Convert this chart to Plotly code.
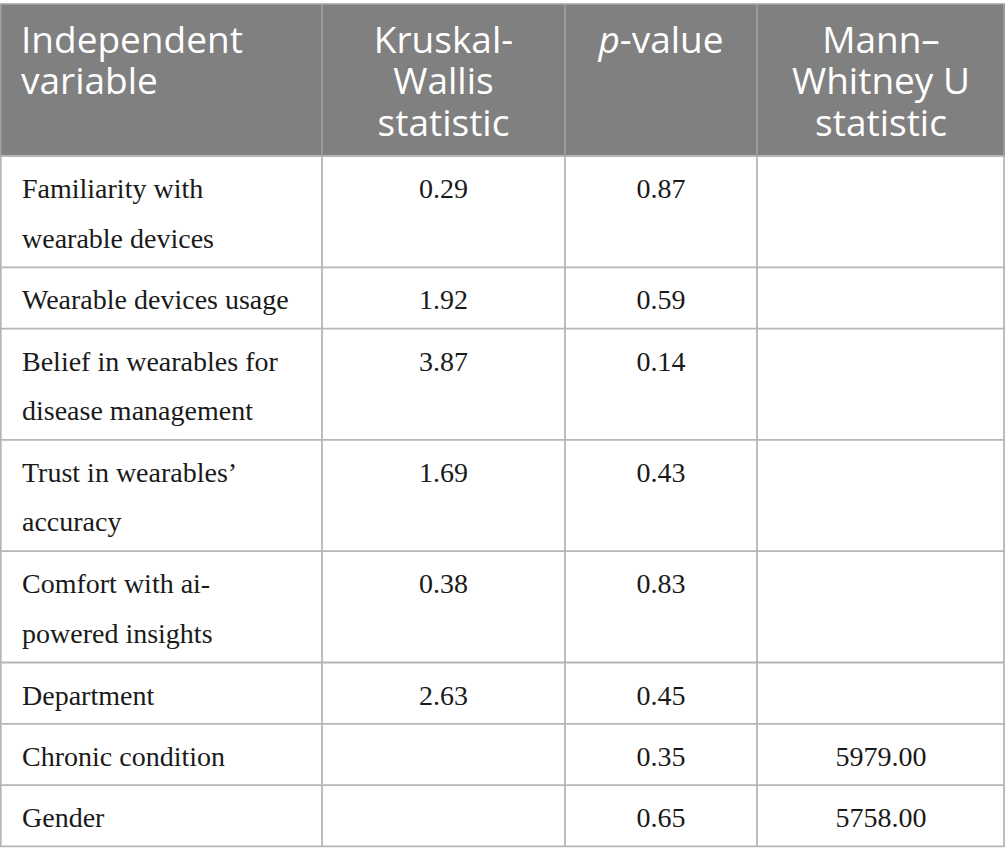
import plotly.graph_objects as go

# ---------------- data ----------------
headers = ["Independent<br>variable",
           "Kruskal-<br>Wallis<br>statistic",
           "<i>p</i>-value",
           "Mann–<br>Whitney U<br>statistic"]
variables = ["Familiarity with<br>wearable devices",
             "Wearable devices usage",
             "Belief in wearables for<br>disease management",
             "Trust in wearables’<br>accuracy",
             "Comfort with ai-<br>powered insights",
             "Department",
             "Chronic condition",
             "Gender"]
kw_stat = [0.29, 1.92, 3.87, 1.69, 0.38, 2.63, None, None]
p_values = [0.87, 0.59, 0.14, 0.43, 0.83, 0.45, 0.35, 0.65]
mw_stat = [None, None, None, None, None, None, 5979.00, 5758.00]

# ---------------- layout constants ----------------
W, H = 1005, 866
col_widths = [322, 243, 192, 248]
table_top = 4
header_h = 152
row_base_h = 61.3
row_line_h = 50
head_glyph_px = 37          # visible header glyph size
head_line_gap = 41.5        # header baseline-to-baseline distance
head_elem_fs = head_line_gap / 1.3   # element size that gives that line spacing
body_fs = 28
head_first_base = 48.7
body_first_base = 42
body_line_gap = 49.5
left_pad = 21
HEAD_BG = "#808080"
GRID = "#b6b6b6"
HEAD_GRID = "#a3a3a3"
HEAD_FONT = "Open Sans"
BODY_FONT = "Liberation Serif"
BODY_COLOR = "#1a1a1a"


def fmt(v):
    return "" if v is None else f"{v:.2f}"


columns = [variables, [fmt(v) for v in kw_stat], [fmt(v) for v in p_values], [fmt(v) for v in mw_stat]]

col_left = [sum(col_widths[:i]) for i in range(len(col_widths))]
col_right = [col_left[i] + col_widths[i] for i in range(len(col_widths))]
n_lines = [len(v.split("<br>")) for v in variables]
row_h = [row_base_h + row_line_h * (n - 1) for n in n_lines]
row_top = [table_top + header_h + sum(row_h[:i]) for i in range(len(row_h))]
table_bottom = row_top[-1] + row_h[-1]

fig = go.Figure()


def col_x(ci):
    return col_left[ci] + left_pad + (0 if ci == 0 else 0) if ci == 0 else (col_left[ci] + col_right[ci]) / 2


# header texts: one text per cell, glyphs enlarged with a span, line spacing from element size
head_texts = ["<br>".join(f"<span style='font-size:{head_glyph_px}px'>{ln}</span>" for ln in h.split("<br>"))
              for h in headers]
for ci, t in enumerate(head_texts):
    fig.add_trace(go.Scatter(
        x=[col_x(ci)], y=[table_top + head_first_base - 0.75 * head_elem_fs],
        text=[t], mode="text",
        textposition="bottom right" if ci == 0 else "bottom center",
        textfont=dict(family=HEAD_FONT, size=head_elem_fs, color="white"),
        hoverinfo="skip", showlegend=False))

# body texts
for ci, col in enumerate(columns):
    texts, xs, ys = [], [], []
    for ri, cell in enumerate(col):
        if not cell:
            continue
        for li, line in enumerate(cell.split("<br>")):
            texts.append(line)
            xs.append(col_x(ci) + (1 if ci == 0 else 0))
            ys.append(row_top[ri] + body_first_base + li * body_line_gap - 0.75 * body_fs)
    fig.add_trace(go.Scatter(
        x=xs, y=ys, text=texts, mode="text",
        textposition="bottom right" if ci == 0 else "bottom center",
        textfont=dict(family=BODY_FONT, size=body_fs, color=BODY_COLOR),
        hoverinfo="skip", showlegend=False))

shapes = []
# header background
shapes.append(dict(type="rect", xref="x", yref="y", x0=0, x1=W, y0=table_top, y1=table_top + header_h,
                   fillcolor=HEAD_BG, line=dict(width=0), layer="below"))
# horizontal lines
shapes.append(dict(type="line", xref="x", yref="y", x0=0, x1=W, y0=table_top, y1=table_top,
                   line=dict(color=HEAD_GRID, width=1.5)))
for y in [table_top + header_h] + [t + h for t, h in zip(row_top, row_h)]:
    shapes.append(dict(type="line", xref="x", yref="y", x0=0, x1=W, y0=y, y1=y,
                       line=dict(color=GRID, width=1.8)))
# vertical lines
for x in [0.8] + col_right[:-1] + [W - 1]:
    shapes.append(dict(type="line", xref="x", yref="y", x0=x, x1=x, y0=table_top, y1=table_top + header_h,
                       line=dict(color=HEAD_GRID, width=1.5)))
    shapes.append(dict(type="line", xref="x", yref="y", x0=x, x1=x, y0=table_top + header_h, y1=table_bottom,
                       line=dict(color=GRID, width=1.8)))

fig.update_layout(
    width=W, height=H,
    margin=dict(l=0, r=0, t=0, b=0),
    paper_bgcolor="white", plot_bgcolor="white",
    xaxis=dict(range=[0, W], visible=False, fixedrange=True),
    yaxis=dict(range=[H, 0], visible=False, fixedrange=True),
    shapes=shapes,
)

fig.write_html("out.html", config={"displayModeBar": False},
               post_script="document.body.style.margin='0px';document.body.style.overflow='hidden';")
